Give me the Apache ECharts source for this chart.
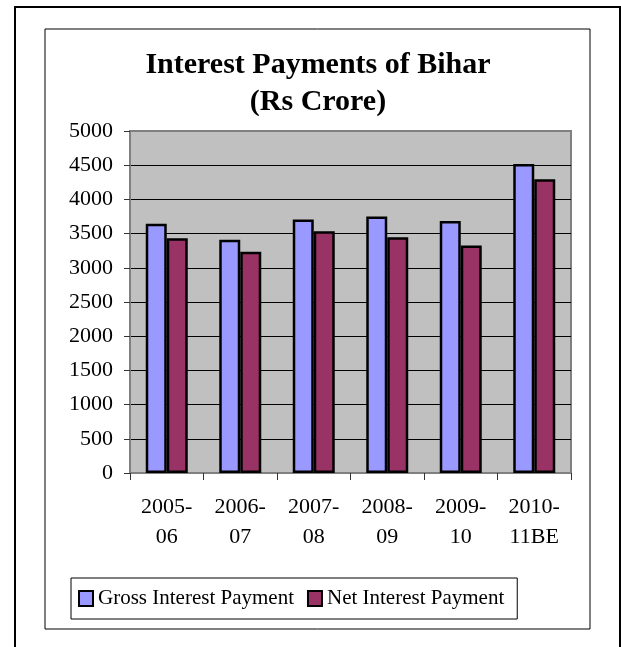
<!DOCTYPE html>
<html>
<head>
<meta charset="utf-8">
<script src="https://cdn.jsdelivr.net/npm/echarts@6/dist/echarts.min.js"></script>
<style>
html,body{margin:0;padding:0;background:#fff;}
#chart{width:621px;height:647px;}
</style>
</head>
<body>
<div id="chart"></div>
<script>
var categories = ['2005-\n06', '2006-\n07', '2007-\n08', '2008-\n09', '2009-\n10', '2010-\n11BE'];
var grossInterest = [3645, 3410, 3705, 3750, 3686, 4518];
var netInterest = [3432, 3233, 3535, 3447, 3325, 4294];
var seriesNames = ['Gross Interest Payment', 'Net Interest Payment'];
var titleText = 'Interest Payments of Bihar\n(Rs Crore)';

var FONT = '"Liberation Serif", "Times New Roman", serif';
var chart = echarts.init(document.getElementById('chart'), null, {renderer: 'canvas'});

var splitColors = ['#808080'];
for (var i = 0; i < 9; i++) splitColors.push('#000000');
splitColors.push('#808080');

chart.setOption({
  backgroundColor: '#ffffff',
  animation: false,
  graphic: [
    {type: 'rect', shape: {x: 15, y: 7, width: 605, height: 660}, style: {fill: 'none', stroke: '#000', lineWidth: 2}, silent: true, z: -10},
    {type: 'rect', shape: {x: 45, y: 29, width: 545, height: 600}, style: {fill: 'none', stroke: '#000', lineWidth: 1}, silent: true, z: -10}
  ],
  title: {
    text: titleText,
    left: 318,
    top: 47,
    padding: 0,
    textAlign: 'center',
    textStyle: {fontFamily: FONT, fontWeight: 'bold', fontSize: 30, lineHeight: 37, color: '#000'}
  },
  legend: {
    left: 71,
    top: 578,
    orient: 'horizontal',
    padding: [10, 13, 10, 7],
    itemWidth: 14,
    itemHeight: 15,
    itemGap: 13,
    borderColor: '#000',
    borderWidth: 1,
    icon: 'rect',
    textStyle: {fontFamily: FONT, fontSize: 21, color: '#000'},
    data: seriesNames
  },
  grid: {
    left: 130, top: 131, right: 50, bottom: 174,
    show: true,
    backgroundColor: '#c0c0c0',
    borderColor: '#808080',
    borderWidth: 2
  },
  xAxis: {
    type: 'category',
    data: categories,
    axisLine: {lineStyle: {color: '#808080', width: 2}},
    axisTick: {show: true, length: 7, lineStyle: {color: '#333'}},
    axisLabel: {fontFamily: FONT, fontSize: 22, lineHeight: 30, color: '#000', margin: 19, interval: 0}
  },
  yAxis: {
    type: 'value',
    min: 0, max: 5000, interval: 500,
    axisLine: {show: true, lineStyle: {color: '#808080', width: 2}},
    axisTick: {show: true, length: 6, lineStyle: {color: '#333'}},
    axisLabel: {fontFamily: FONT, fontSize: 22, color: '#000', margin: 17, formatter: function (v) { return String(v); }},
    splitLine: {show: true, lineStyle: {color: splitColors, width: 1}}
  },
  series: [
    {
      name: seriesNames[0], type: 'bar', data: grossInterest,
      barWidth: 21, barGap: '0%',
      itemStyle: {color: '#9999ff', borderColor: '#000', borderWidth: 2.5}
    },
    {
      name: seriesNames[1], type: 'bar', data: netInterest,
      barWidth: 21, barGap: '0%',
      itemStyle: {color: '#993366', borderColor: '#000', borderWidth: 2.5}
    }
  ]
});
</script>
</body>
</html>
